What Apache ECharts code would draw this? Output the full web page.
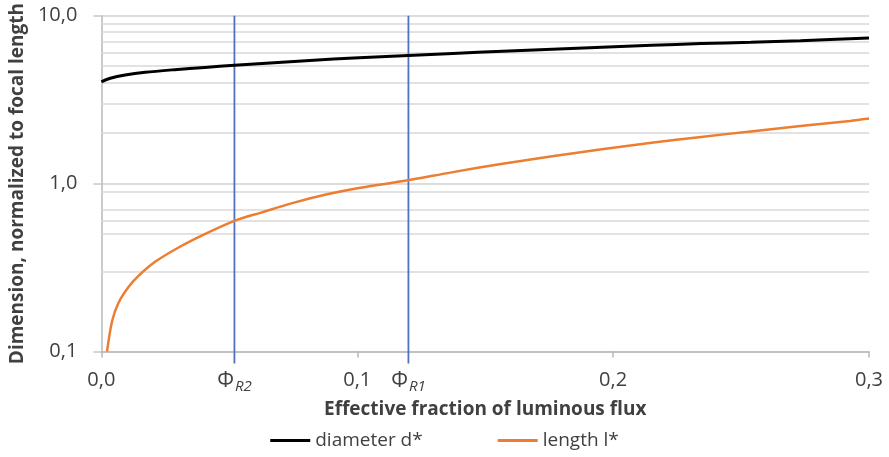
<!DOCTYPE html>
<html>
<head>
<meta charset="utf-8">
<script src="https://cdn.jsdelivr.net/npm/echarts@6/dist/echarts.min.js"></script>
<style>html,body{margin:0;padding:0;background:#fff}#c{width:889px;height:457px}</style>
</head>
<body>
<div id="c"></div>
<script>
// ---- data ----
const diamX = [0, 0.0035, 0.0093, 0.0171, 0.0287, 0.0404, 0.052, 0.0675, 0.083, 0.0986, 0.1199, 0.1374, 0.1568, 0.1762, 0.1956, 0.215, 0.2344, 0.2538, 0.2732, 0.3];
const diamY = [4.04, 4.24, 4.43, 4.60, 4.77, 4.92, 5.06, 5.25, 5.43, 5.59, 5.80, 5.96, 6.14, 6.32, 6.49, 6.66, 6.82, 6.95, 7.10, 7.36];
const lenX = [0.0022, 0.0042, 0.0067, 0.0106, 0.0145, 0.021, 0.030, 0.0404, 0.052, 0.0624, 0.0753, 0.0882, 0.1012, 0.118, 0.1374, 0.1568, 0.1762, 0.1956, 0.215, 0.2344, 0.2538, 0.2732, 0.2926, 0.3];
const lenY = [0.10, 0.152, 0.195, 0.242, 0.282, 0.342, 0.415, 0.50, 0.60, 0.672, 0.77, 0.863, 0.944, 1.035, 1.17, 1.313, 1.454, 1.60, 1.748, 1.897, 2.045, 2.204, 2.36, 2.44];
const phiNames = ['R2', 'R1'];
const phiX = [0.052, 0.12];
const phiYRange = [0.0849, 10];
const minorGrid = [2, 3, 4, 5, 6, 7, 8, 9, 0.3, 0.5, 0.6, 0.7, 0.9];
const seriesNames = ['diameter d*', 'length l*'];

const FONT = '"Open Sans"';
const TXT = '#404040';
const chart = echarts.init(document.getElementById('c'));

const series = [
  {
    name: 'grid-minor', type: 'line', data: [], silent: true, symbol: 'none', z: 1,
    markLine: {
      silent: true, symbol: 'none', label: {show: false}, z: 1,
      lineStyle: {color: '#d9d9d9', width: 1.5, type: 'solid'},
      data: minorGrid.map(v => ({yAxis: v}))
    }
  },
  {
    name: seriesNames[0], type: 'line', smooth: 0.3, symbol: 'none',
    lineStyle: {color: '#000000', width: 3}, itemStyle: {color: '#000000'},
    data: diamX.map((x, i) => [x, diamY[i]]), z: 8
  },
  {
    name: seriesNames[1], type: 'line', smooth: 0.3, symbol: 'none',
    lineStyle: {color: '#ED7D31', width: 2.5}, itemStyle: {color: '#ED7D31'},
    data: lenX.map((x, i) => [x, lenY[i]]), z: 8
  }
];
phiX.forEach((x, k) => {
  series.push({
    name: 'phi' + k, type: 'line', clip: false, silent: true,
    symbol: 'circle', symbolSize: 1, showSymbol: true,
    itemStyle: {color: 'rgba(0,0,0,0)'},
    lineStyle: {color: '#4f72be', width: 1.8, type: 'solid'}, z: 6,
    data: [
      {value: [x, phiYRange[0]], label: {
        show: true, position: 'bottom', distance: 6,
        formatter: '{a|Φ}{b|' + phiNames[k] + '}',
        rich: {
          a: {fontFamily: FONT, fontSize: 21, color: TXT, lineHeight: 22},
          b: {fontFamily: FONT, fontSize: 15, fontStyle: 'italic', color: TXT, lineHeight: 22, padding: [11, 0, 0, 1]}
        }
      }},
      [x, phiYRange[1]]
    ]
  });
});

chart.setOption({
  animation: false,
  grid: {left: 96, right: 20, top: 13.5, bottom: 105.5, containLabel: false},
  legend: {
    data: seriesNames, bottom: 2, left: 'center', itemGap: 75,
    icon: 'rect', itemWidth: 40, itemHeight: 3,
    textStyle: {fontFamily: FONT, fontSize: 19, color: TXT}
  },
  xAxis: {
    type: 'value', min: 0, max: 0.3, interval: 0.1,
    name: 'Effective fraction of luminous flux', nameLocation: 'middle', nameGap: 49,
    nameTextStyle: {fontFamily: FONT, fontSize: 19, fontWeight: 'bold', color: TXT},
    axisLine: {show: true, lineStyle: {color: '#b8b8b8', width: 1.5}},
    axisTick: {show: true, length: 6, lineStyle: {color: '#b8b8b8', width: 1.5}},
    splitLine: {show: false},
    axisLabel: {
      margin: 19, fontFamily: FONT, fontSize: 20, color: TXT,
      formatter: v => v.toFixed(1).replace('.', ',')
    }
  },
  yAxis: {
    type: 'log', logBase: 10, min: 0.1, max: 10,
    name: 'Dimension, normalized to focal length', nameLocation: 'middle', nameGap: 71,
    nameTextStyle: {fontFamily: FONT, fontSize: 19, fontWeight: 'bold', color: TXT},
    axisLine: {show: true, lineStyle: {color: '#b8b8b8', width: 1.5}},
    axisTick: {show: true, length: 8, lineStyle: {color: '#c8c8c8', width: 1.5}},
    splitLine: {show: true, lineStyle: {color: '#d0d0d0', width: 1.5}},
    axisLabel: {
      margin: 24, fontFamily: FONT, fontSize: 20, color: TXT,
      formatter: v => v.toFixed(1).replace('.', ',')
    }
  },
  series: series
});
</script>
</body>
</html>
